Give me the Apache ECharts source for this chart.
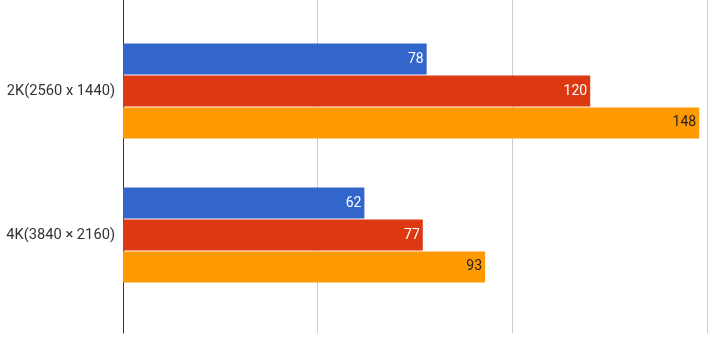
<!DOCTYPE html>
<html><head><meta charset="utf-8">
<script src="https://cdn.jsdelivr.net/npm/echarts@6/dist/echarts.min.js"></script>
<style>html,body{margin:0;padding:0;background:#fff}#c{width:720px;height:340px}</style>
</head><body><div id="c"></div>
<script>
var categories = ['2K(2560 x 1440)', '4K(3840 × 2160)'];
var seriesA = [78, 62];
var seriesB = [120, 77];
var seriesC = [148, 93];
var axisMin = 0, axisMax = 150, axisStep = 50;

var chart = echarts.init(document.getElementById('c'));
function lbl(color) {
  return { show: true, position: 'insideRight', distance: 3, color: color,
           fontFamily: 'Roboto', fontSize: 14 };
}
chart.setOption({
  animation: false,
  grid: [
    { left: 123, right: 13, top: -5, bottom: 7 },
    { left: 123, right: 13, top: 19, height: 288 }
  ],
  xAxis: [
    { gridIndex: 0, type: 'value', min: axisMin, max: axisMax, interval: axisStep,
      axisLabel: { show: false }, axisTick: { show: false }, axisLine: { show: false },
      splitLine: { lineStyle: { color: '#cccccc', width: 1 } } },
    { gridIndex: 1, type: 'value', min: axisMin, max: axisMax, interval: axisStep,
      axisLabel: { show: false }, axisTick: { show: false }, axisLine: { show: false },
      splitLine: { show: false } }
  ],
  yAxis: [
    { gridIndex: 0, type: 'category', data: categories, inverse: true,
      axisLabel: { show: false }, axisTick: { show: false },
      axisLine: { show: true, lineStyle: { color: '#333333', width: 1 } } },
    { gridIndex: 1, type: 'category', data: categories, inverse: true,
      axisTick: { show: false }, axisLine: { show: false },
      axisLabel: { margin: 8, color: '#333333', fontFamily: 'Roboto', fontSize: 14.7 } }
  ],
  series: [
    { type: 'bar', xAxisIndex: 1, yAxisIndex: 1, data: seriesA, barWidth: 31, barGap: '3%',
      itemStyle: { color: '#3366cc' }, label: lbl('#ffffff') },
    { type: 'bar', xAxisIndex: 1, yAxisIndex: 1, data: seriesB, barWidth: 31, barGap: '3%',
      itemStyle: { color: '#dc3912' }, label: lbl('#ffffff') },
    { type: 'bar', xAxisIndex: 1, yAxisIndex: 1, data: seriesC, barWidth: 31, barGap: '3%',
      itemStyle: { color: '#ff9900' }, label: lbl('#222222') }
  ]
});
</script></body></html>
